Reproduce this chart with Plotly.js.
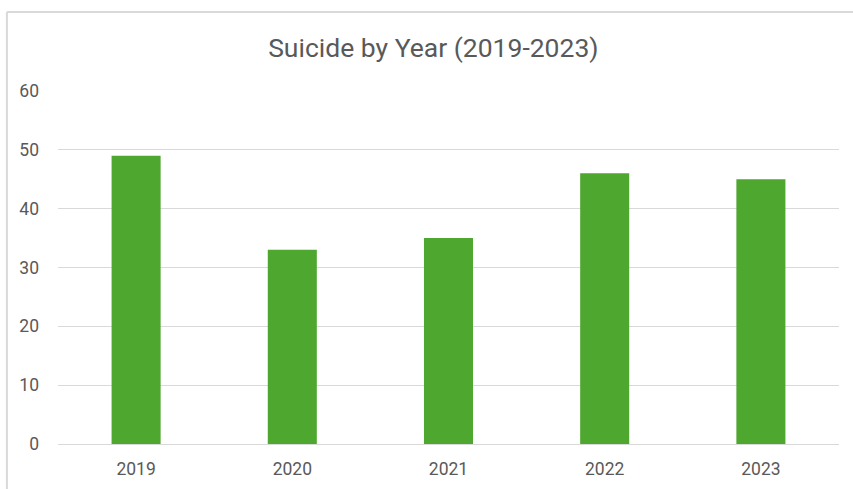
<!DOCTYPE html>
<html><head><meta charset="utf-8">
<script src="https://cdn.plot.ly/plotly-3.0.1.min.js"></script>
<style>html,body{margin:0;padding:0;background:#fff;}#c{width:853px;height:489px;}</style>
</head><body><div id="c"></div>
<script>
const years = ["2019", "2020", "2021", "2022", "2023"];
const suicides = [49, 33, 35, 46, 45];
const yTicks = [0, 10, 20, 30, 40, 50, 60];

const fontFam = "Roboto, 'Liberation Sans', sans-serif";
Plotly.newPlot('c', [{
  type: 'bar', x: years, y: suicides,
  marker: {color: '#4EA72E', line: {width: 0}},
  hoverinfo: 'x+y'
}], {
  width: 853, height: 489,
  margin: {l: 58, r: 14, t: 91, b: 45},
  paper_bgcolor: '#fff', plot_bgcolor: '#fff',
  title: {text: 'Suicide by Year (2019-2023)', xref: 'container', x: 0.508, xanchor: 'center', y: 0.902, yanchor: 'middle',
          font: {family: fontFam, size: 26.5, color: '#595959'}},
  bargap: 0.686,
  xaxis: {type: 'category', showgrid: false, zeroline: false, showline: false, ticks: '',
          tickfont: {family: fontFam, size: 17.5, color: '#595959'}, ticklabelstandoff: 12},
  yaxis: {range: [0, 60], tickvals: yTicks, showgrid: true, gridcolor: '#d9d9d9', gridwidth: 1,
          zeroline: true, zerolinecolor: '#d9d9d9', zerolinewidth: 1, showline: false, ticks: '',
          tickfont: {family: fontFam, size: 17.5, color: '#595959'}, ticklabelstandoff: 18},
  shapes: [
    {type: 'line', xref: 'paper', yref: 'paper', x0: -0.0654, x1: 1.03, y0: 1.2238, y1: 1.2238,
     line: {color: '#d9d9d9', width: 2}},
    {type: 'line', xref: 'paper', yref: 'paper', x0: -0.0654, x1: -0.0654, y0: 1.2238, y1: -0.2,
     line: {color: '#d9d9d9', width: 2}}
  ],
  showlegend: false
}, {displayModeBar: false, staticPlot: true});
</script></body></html>
